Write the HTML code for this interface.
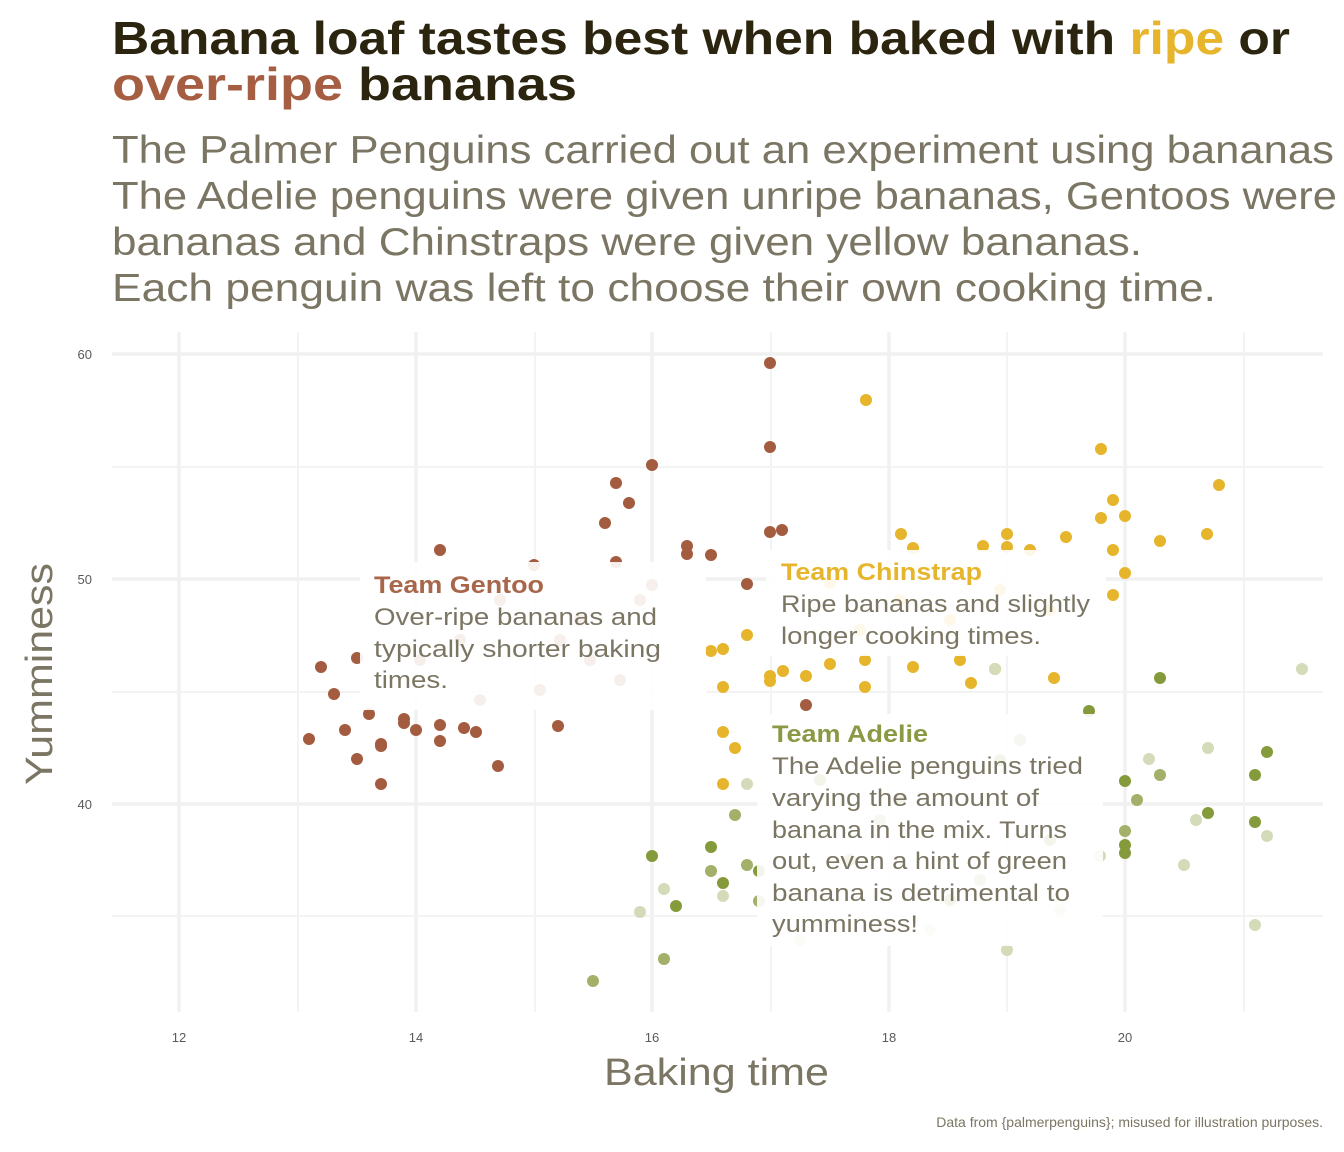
<!DOCTYPE html>
<html><head><meta charset="utf-8"><style>
html,body{margin:0;padding:0;background:#fff;}
svg{display:block;}
</style></head><body>
<svg id="s" width="1344" height="1152" viewBox="0 0 1344 1152" xmlns="http://www.w3.org/2000/svg">
<rect width="1344" height="1152" fill="#fff"/>
<text x="112" y="54" font-family="Liberation Sans, sans-serif" font-weight="bold" font-size="46" fill="#2b2510" textLength="1178" lengthAdjust="spacingAndGlyphs">Banana loaf tastes best when baked with <tspan fill="#e6b52b">ripe</tspan> or</text>
<text x="112" y="100" font-family="Liberation Sans, sans-serif" font-weight="bold" font-size="46" fill="#2b2510" textLength="465" lengthAdjust="spacingAndGlyphs"><tspan fill="#a65e42">over-ripe</tspan> bananas</text>
<g font-family="Liberation Sans, sans-serif" font-size="39" fill="#7b7563">
<text x="112" y="163" textLength="1222" lengthAdjust="spacingAndGlyphs">The Palmer Penguins carried out an experiment using bananas</text>
<text x="112" y="209" textLength="1225" lengthAdjust="spacingAndGlyphs">The Adelie penguins were given unripe bananas, Gentoos were</text>
<text x="112" y="255" textLength="1030" lengthAdjust="spacingAndGlyphs">bananas and Chinstraps were given yellow bananas.</text>
<text x="112" y="301" textLength="1104" lengthAdjust="spacingAndGlyphs">Each penguin was left to choose their own cooking time.</text>
</g>
<g stroke="#f3f3f3" stroke-width="2">
<line x1="112" x2="1323" y1="467" y2="467"/><line x1="112" x2="1323" y1="692" y2="692"/><line x1="112" x2="1323" y1="916" y2="916"/>
<line y1="332" y2="1012" x1="298" x2="298"/><line y1="332" y2="1012" x1="535" x2="535"/><line y1="332" y2="1012" x1="771" x2="771"/><line y1="332" y2="1012" x1="1007" x2="1007"/><line y1="332" y2="1012" x1="1244" x2="1244"/>
</g>
<g stroke="#f1f1f1" stroke-width="3.5">
<line x1="112" x2="1323" y1="354" y2="354"/><line x1="112" x2="1323" y1="579" y2="579"/><line x1="112" x2="1323" y1="804" y2="804"/>
<line y1="332" y2="1012" x1="179" x2="179"/><line y1="332" y2="1012" x1="416" x2="416"/><line y1="332" y2="1012" x1="652" x2="652"/><line y1="332" y2="1012" x1="889" x2="889"/><line y1="332" y2="1012" x1="1125" x2="1125"/>
</g>
<g id="pts"></g>
<rect x="360" y="562" width="346" height="148" fill="#fff" opacity="0.9"/>
<rect x="766" y="550" width="340" height="106" fill="#fff" opacity="0.9"/>
<rect x="757" y="714" width="346" height="232" fill="#fff" opacity="0.9"/>
<g font-family="Liberation Sans, sans-serif" font-size="24" lengthAdjust="spacingAndGlyphs">
<text x="374" y="593" font-weight="bold" fill="#a8664a" textLength="170" lengthAdjust="spacingAndGlyphs">Team Gentoo</text>
<g fill="#7b7563"><text x="374" y="625" textLength="283" lengthAdjust="spacingAndGlyphs">Over-ripe bananas and</text><text x="374" y="657" textLength="287" lengthAdjust="spacingAndGlyphs">typically shorter baking</text><text x="374" y="688" textLength="74" lengthAdjust="spacingAndGlyphs">times.</text></g>
<text x="781" y="580" font-weight="bold" fill="#e6b52b" textLength="201" lengthAdjust="spacingAndGlyphs">Team Chinstrap</text>
<g fill="#7b7563"><text x="781" y="612" textLength="309" lengthAdjust="spacingAndGlyphs">Ripe bananas and slightly</text><text x="781" y="644" textLength="260" lengthAdjust="spacingAndGlyphs">longer cooking times.</text></g>
<text x="772" y="742" font-weight="bold" fill="#8a9a44" textLength="156" lengthAdjust="spacingAndGlyphs">Team Adelie</text>
<g fill="#7b7563"><text x="772" y="774" textLength="311" lengthAdjust="spacingAndGlyphs">The Adelie penguins tried</text><text x="772" y="806" textLength="267" lengthAdjust="spacingAndGlyphs">varying the amount of</text><text x="772" y="838" textLength="295" lengthAdjust="spacingAndGlyphs">banana in the mix. Turns</text><text x="772" y="869" textLength="295" lengthAdjust="spacingAndGlyphs">out, even a hint of green</text><text x="772" y="901" textLength="298" lengthAdjust="spacingAndGlyphs">banana is detrimental to</text><text x="772" y="932" textLength="146" lengthAdjust="spacingAndGlyphs">yumminess!</text></g>
</g>
<g font-family="Liberation Sans, sans-serif" font-size="13" fill="#5a5a5a">
<text x="92" y="359" text-anchor="end">60</text><text x="92" y="584" text-anchor="end">50</text><text x="92" y="809" text-anchor="end">40</text>
<text x="179" y="1042" text-anchor="middle">12</text><text x="416" y="1042" text-anchor="middle">14</text><text x="652" y="1042" text-anchor="middle">16</text><text x="889" y="1042" text-anchor="middle">18</text><text x="1125" y="1042" text-anchor="middle">20</text>
</g>
<text x="604" y="1085" font-family="Liberation Sans, sans-serif" font-size="38" fill="#7b7563" textLength="225" lengthAdjust="spacingAndGlyphs">Baking time</text>
<text transform="translate(52,785) rotate(-90)" font-family="Liberation Sans, sans-serif" font-size="38" fill="#7b7563" textLength="222" lengthAdjust="spacingAndGlyphs">Yumminess</text>
<text x="1323" y="1127" text-anchor="end" font-family="Liberation Sans, sans-serif" font-size="14" fill="#7b7563">Data from {palmerpenguins}; misused for illustration purposes.</text>
<script>
var g=document.getElementById('pts');
function add(arr,col){arr.forEach(function(p){var c=document.createElementNS('http://www.w3.org/2000/svg','circle');c.setAttribute('cx',p[0]);c.setAttribute('cy',p[1]);c.setAttribute('r',6);c.setAttribute('fill',p[2]||col);g.appendChild(c);});}
add([[770,363],[770,447],[652,465],[616,483],[629,503],[605,523],[770,532],[782,530],[687,546],[687,554],[711,555],[747,584],[440,550],[321,667],[357,658],[334,694],[309,739],[345,730],[369,714],[381,744],[381,746],[357,759],[404,719],[404,723],[416,730],[440,725],[440,741],[464,728],[476,732],[498,766],[381,784],[558,726],[806,705],[534,565],[616,562],[652,585],[640,600],[580,620],[500,600],[460,640],[420,660],[590,660],[620,680],[540,690],[480,700],[560,640]],'#a35c3f');
add([[866,400],[1101,449],[1113,500],[1219,485],[1101,518],[1125,516],[901,534],[983,546],[1007,534],[1007,547],[1030,550],[1066,537],[1160,541],[1207,534],[1113,550],[1125,573],[1113,595],[913,548],[747,635],[723,649],[711,651],[783,671],[806,676],[830,664],[770,676],[770,681],[723,687],[865,660],[865,687],[913,667],[960,660],[971,683],[995,669],[1054,678],[723,732],[735,748],[723,784],[830,583],[900,600],[950,620],[1000,590],[1050,610],[860,630]],'#e6b52b');
add([[1089,711],[1160,678],[1267,752],[1255,775],[1125,781],[1208,813],[1125,845],[1125,853],[1255,822],[711,847],[723,883],[652,856],[676,906],[759,871],[1000,760],[900,800],[850,860],[950,900],[1050,840],[820,780]],'#859a3a');
add([[1137,800],[1160,775],[1125,831],[735,815],[747,865],[711,871],[759,901],[664,959],[593,981],[1020,740],[880,820],[980,880]],'#a2b06a');
add([[1302,669],[1149,759],[1208,748],[1196,820],[1267,836],[1184,865],[1255,925],[747,784],[723,896],[664,889],[640,912],[995,669],[1007,950],[1100,856],[930,930],[800,940],[1060,910]],'#d3dbb9');
</script>
</svg>
</body></html>
